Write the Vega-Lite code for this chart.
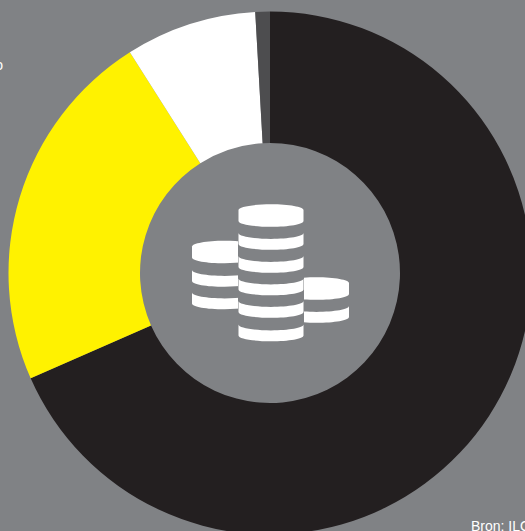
{"$schema":"https://vega.github.io/schema/vega-lite/v6.json","width":540,"height":546,"padding":0,"autosize":{"type":"none"},"background":"#808285","view":{"stroke":null},"config":{"style":{"cell":{"stroke":null}}},"datasets":{"slices":[{"segment":"A","value":68.4,"rank":1},{"segment":"B","value":22.6,"rank":2},{"segment":"C","value":8.1,"rank":3},{"segment":"D","value":0.9,"rank":4}],"coins":[{"stack":"left","kind":"top","x":224.5,"y":252,"layer":1},{"stack":"left","kind":"band","x":224.5,"y":275.5,"layer":1},{"stack":"left","kind":"band","x":224.5,"y":298,"layer":1},{"stack":"right","kind":"top","x":316.5,"y":288.5,"layer":1},{"stack":"right","kind":"band","x":316.5,"y":311.5,"layer":1}],"bigcoins":[{"stack":"big","kind":"top","x":271,"y":215.5},{"stack":"big","kind":"band","x":271,"y":238.5},{"stack":"big","kind":"band","x":271,"y":261.5},{"stack":"big","kind":"band","x":271,"y":284},{"stack":"big","kind":"band","x":271,"y":306.5},{"stack":"big","kind":"band","x":271,"y":330}],"backing":[{"x":238,"x2":304,"y":228,"y2":345}],"labels":[{"text":"Bron: ILO","x":471,"y":531,"align":"left"},{"text":"o","x":3,"y":70,"align":"right"}]},"layer":[{"data":{"name":"slices"},"mark":{"type":"arc","radius":261.5,"radius2":130},"encoding":{"theta":{"field":"value","type":"quantitative","stack":true,"scale":{"domain":[0,100],"range":[0,6.283185]}},"order":{"field":"rank"},"color":{"field":"segment","type":"nominal","legend":null,"scale":{"domain":["A","B","C","D"],"range":["#231f20","#fff200","#ffffff","#4d4d4f"]}}}},{"data":{"name":"coins"},"transform":[{"filter":"datum.kind==='top'"}],"mark":{"type":"point","filled":true,"opacity":1,"color":"#ffffff","size":4225,"shape":"M-1,-0.167 A1,0.18 0 0 1 1,-0.167 L1,0.167 A1,0.18 0 0 1 -1,0.167 Z"},"encoding":{"x":{"field":"x","type":"quantitative","axis":null,"scale":{"domain":[0,540],"nice":false,"zero":false}},"y":{"field":"y","type":"quantitative","axis":null,"scale":{"domain":[546,0],"nice":false,"zero":false}}}},{"data":{"name":"coins"},"transform":[{"filter":"datum.kind==='band'"}],"mark":{"type":"point","filled":true,"opacity":1,"color":"#ffffff","size":4225,"shape":"M-1,-0.167 A1,0.18 0 0 0 1,-0.167 L1,0.167 A1,0.18 0 0 1 -1,0.167 Z"},"encoding":{"x":{"field":"x","type":"quantitative"},"y":{"field":"y","type":"quantitative"}}},{"data":{"name":"backing"},"mark":{"type":"rect","color":"#808285"},"encoding":{"x":{"field":"x","type":"quantitative"},"x2":{"field":"x2"},"y":{"field":"y","type":"quantitative"},"y2":{"field":"y2"}}},{"data":{"name":"bigcoins"},"transform":[{"filter":"datum.kind==='top'"}],"mark":{"type":"point","filled":true,"opacity":1,"color":"#ffffff","size":4225,"shape":"M-1,-0.167 A1,0.18 0 0 1 1,-0.167 L1,0.167 A1,0.18 0 0 1 -1,0.167 Z"},"encoding":{"x":{"field":"x","type":"quantitative"},"y":{"field":"y","type":"quantitative"}}},{"data":{"name":"bigcoins"},"transform":[{"filter":"datum.kind==='band'"}],"mark":{"type":"point","filled":true,"opacity":1,"color":"#ffffff","size":4225,"shape":"M-1,-0.167 A1,0.18 0 0 0 1,-0.167 L1,0.167 A1,0.18 0 0 1 -1,0.167 Z"},"encoding":{"x":{"field":"x","type":"quantitative"},"y":{"field":"y","type":"quantitative"}}},{"data":{"name":"labels"},"transform":[{"filter":"datum.align==='left'"}],"mark":{"type":"text","color":"#ffffff","font":"Liberation Sans","fontSize":14,"align":"left","baseline":"alphabetic"},"encoding":{"x":{"field":"x","type":"quantitative"},"y":{"field":"y","type":"quantitative"},"text":{"field":"text"}}},{"data":{"name":"labels"},"transform":[{"filter":"datum.align==='right'"}],"mark":{"type":"text","color":"#ffffff","font":"Liberation Sans","fontSize":14,"align":"right","baseline":"alphabetic"},"encoding":{"x":{"field":"x","type":"quantitative"},"y":{"field":"y","type":"quantitative"},"text":{"field":"text"}}}]}
